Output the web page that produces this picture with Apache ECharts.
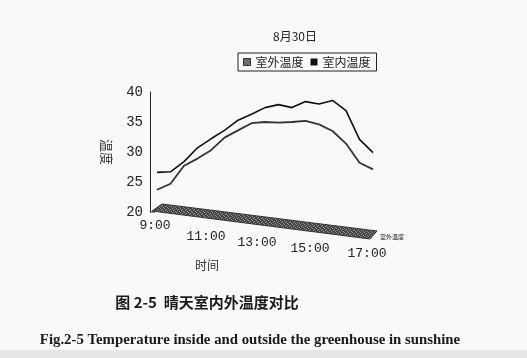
<!DOCTYPE html>
<html>
<head>
<meta charset="utf-8">
<script src="https://cdn.jsdelivr.net/npm/echarts@6/dist/echarts.min.js"></script>
<style>
html,body{margin:0;padding:0;background:#f9f9f8;}
#c{width:527px;height:358px;}
</style>
</head>
<body>
<div id="c"></div>
<script>
// ---- data ----
const times = ['9:00','9:30','10:00','10:30','11:00','11:30','12:00','12:30','13:00','13:30','14:00','14:30','15:00','15:30','16:00','16:30','17:00'];
const outdoorTemp = [23.7,24.7,27.7,28.9,30.3,32.4,33.6,34.8,35.0,34.9,35.0,35.2,34.6,33.5,31.4,28.2,27.1];
const indoorTemp  = [26.6,26.7,28.4,30.7,32.2,33.6,35.3,36.3,37.4,37.9,37.4,38.4,38.0,38.6,36.9,32.1,29.9];
const yTicks = [20,25,30,35,40];
const seriesNames = ['室外温度','室内温度'];
const chartTitle = '8月30日';
const xName = '时间';
const yName = '温度';
const captionCn = '图 2-5  晴天室内外温度对比';
const captionEn = 'Fig.2-5 Temperature inside and outside the greenhouse in sunshine';

// hatched texture for floor / legend icon
function hatch(dark, light){
  const c = document.createElement('canvas');
  c.width = 4; c.height = 4;
  const g = c.getContext('2d');
  g.fillStyle = dark; g.fillRect(0,0,4,4);
  g.fillStyle = light;
  g.fillRect(0,0,1,1); g.fillRect(2,1,1,1); g.fillRect(1,2,1,1); g.fillRect(3,3,1,1);
  return c;
}
const floorPattern = {image: hatch('#444','#999'), repeat: 'repeat'};
const iconPattern = {image: hatch('#555','#bbb'), repeat: 'repeat'};

const labelShift = {0:[0,4],4:[11,10],8:[17,16],12:[23,18],16:[28,12]};
const rich = {};
Object.keys(labelShift).forEach(k => {
  rich['l'+k] = {padding:[labelShift[k][0], labelShift[k][1], 0, 0], fontFamily:'Liberation Mono', fontSize:13, color:'#222'};
});

const chart = echarts.init(document.getElementById('c'), null, {renderer:'canvas'});
chart.setOption({
  backgroundColor: '#f9f9f8',
  animation: false,
  grid: {left:157, right:154, top:92, bottom:146},
  legend: {
    left: 238, top: 53,
    orient: 'horizontal',
    padding: [3,6,3,5],
    itemGap: 7,
    itemWidth: 7, itemHeight: 7,
    borderColor: '#222', borderWidth: 1,
    textStyle: {fontFamily:'Noto Sans CJK SC', fontSize:12, color:'#222'},
    data: [
      {name: seriesNames[0], icon:'rect', itemStyle:{color: iconPattern, borderColor:'#333', borderWidth:1}},
      {name: seriesNames[1], icon:'rect', itemStyle:{color:'#111'}}
    ]
  },
  xAxis: {
    type: 'category',
    data: times,
    boundaryGap: false,
    axisLine: {show:false},
    axisTick: {show:false},
    splitLine: {show:false},
    axisLabel: {
      interval: 3,
      margin: 7,
      formatter: (v, i) => '{l' + i + '|' + v + '}',
      rich: rich
    }
  },
  yAxis: {
    type: 'value',
    min: yTicks[0], max: yTicks[yTicks.length-1], interval: 5,
    offset: 7,
    name: yName,
    nameLocation: 'middle',
    nameRotate: -90,
    nameGap: 37,
    nameTextStyle: {fontFamily:'Noto Sans CJK SC', fontSize:13, color:'#333'},
    axisLine: {show:true, lineStyle:{color:'#222', width:1}},
    axisTick: {show:false},
    splitLine: {show:false},
    axisLabel: {margin:7, fontFamily:'Liberation Mono', fontSize:14, color:'#222'}
  },
  series: [
    {
      type: 'custom',
      silent: true,
      clip: false,
      z: 1,
      data: [[0, yTicks[0]]],
      renderItem: function(params, api){
        const a = api.coord([0, yTicks[0]]);
        const b = api.coord([times.length-1, yTicks[0]]);
        return {
          type: 'group',
          children: [
            {type:'line', shape:{x1:a[0]-7, y1:a[1], x2:a[0]-2, y2:a[1]}, style:{stroke:'#222', lineWidth:1}},
            {type:'polygon', shape:{points:[[a[0]+5,a[1]-8],[b[0]+4,b[1]+19],[b[0]-3,b[1]+27],[a[0]-5,a[1]-1]]},
             style:{fill: floorPattern, stroke:'#333', lineWidth:1}},
            {type:'text', style:{text: seriesNames[0], x:b[0]+7, y:b[1]+25, fontSize:6, fontFamily:'Noto Sans CJK SC', fill:'#222', verticalAlign:'middle'}}
          ]
        };
      }
    },
    {
      name: seriesNames[0], type: 'line', data: outdoorTemp,
      symbol: 'none', z: 3,
      itemStyle: {color:'#777'},
      lineStyle: {color:'#333', width:1.8}
    },
    {
      name: seriesNames[1], type: 'line', data: indoorTemp,
      symbol: 'none', z: 4,
      itemStyle: {color:'#111'},
      lineStyle: {color:'#111', width:1.6}
    }
  ],
  graphic: [
    {type:'rect', left:0, top:350, shape:{width:527, height:8}, style:{fill:'#e6e6e4'}, silent:true, z:-1},
    {type:'text', x:295, y:36, style:{text: chartTitle, fontFamily:'Noto Sans CJK SC', fontSize:12, fill:'#222', textAlign:'center', textVerticalAlign:'middle'}},
    {type:'text', x:207, y:265, style:{text: xName, fontFamily:'Noto Sans CJK SC', fontSize:12, fill:'#333', textAlign:'center', textVerticalAlign:'middle'}},
    {type:'text', x:207, y:302, style:{text: captionCn, fontFamily:'Noto Sans CJK SC', fontWeight:'bold', fontSize:15, fill:'#1a1a1a', textAlign:'center', textVerticalAlign:'middle'}},
    {type:'text', x:250, y:340, style:{text: captionEn, fontFamily:'Liberation Serif', fontWeight:'bold', fontSize:14.8, fill:'#1a1a1a', textAlign:'center', textVerticalAlign:'middle'}}
  ]
});
</script>
</body>
</html>
